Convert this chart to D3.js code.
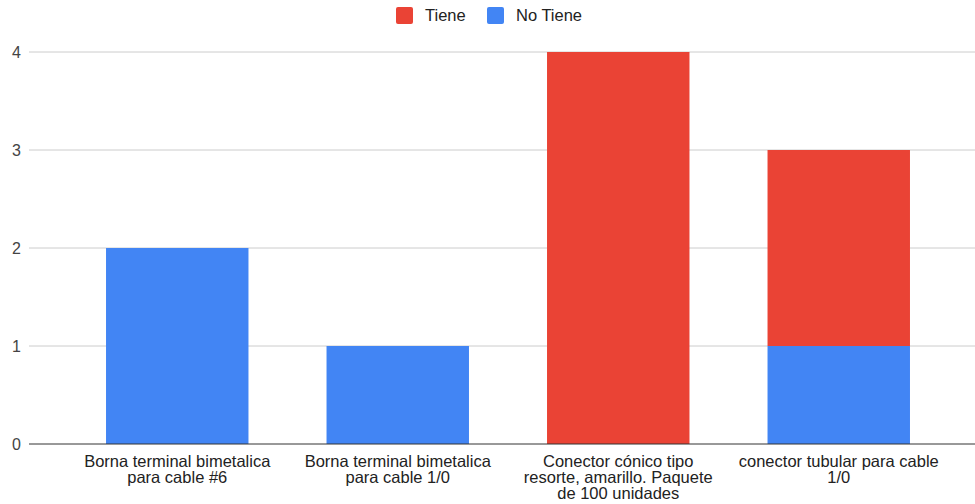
<!DOCTYPE html>
<html>
<head>
<meta charset="utf-8">
<script src="https://cdn.jsdelivr.net/npm/d3@7"></script>
<style>
  html, body { margin: 0; padding: 0; background: #fff; }
  svg { display: block; font-family: "Liberation Sans", Arial, sans-serif; }
</style>
</head>
<body>
<svg id="chart" width="975" height="504"></svg>
<script>
// Inventory of connectors: how many units are available ("Tiene") vs missing ("No Tiene")
const categories = [
  "Borna terminal bimetalica para cable #6",
  "Borna terminal bimetalica para cable 1/0",
  "Conector cónico tipo resorte, amarillo. Paquete de 100 unidades",
  "conector tubular para cable 1/0"
];
// Category tick labels, broken into lines
const categoryLabelLines = [
  ["Borna terminal bimetalica", "para cable #6"],
  ["Borna terminal bimetalica", "para cable 1/0"],
  ["Conector cónico tipo", "resorte, amarillo. Paquete", "de 100 unidades"],
  ["conector tubular para cable", "1/0"]
];
const noTiene = [2, 1, 0, 1];
const tiene = [0, 0, 4, 2];
const seriesNames = ["Tiene", "No Tiene"];
const seriesColors = ["#ea4335", "#4285f4"];
const yTicks = [0, 1, 2, 3, 4];

const svg = d3.select("#chart");
const plotLeft = 29, plotRight = 975;
const fontSize = 16.5;

const x = d3.scaleBand()
  .domain(categories)
  .range([67, 949])
  .paddingInner(0.354)
  .paddingOuter(0.177);

const y = d3.scaleLinear().domain([0, 4]).range([444, 52]);

// Horizontal gridlines
svg.append("g")
  .selectAll("line")
  .data(yTicks.filter(d => d !== 0))
  .join("line")
  .attr("x1", plotLeft).attr("x2", plotRight)
  .attr("y1", d => y(d)).attr("y2", d => y(d))
  .attr("stroke", "#cccccc").attr("stroke-width", 1);

// Y tick labels
svg.append("g")
  .selectAll("text")
  .data(yTicks)
  .join("text")
  .attr("x", 21)
  .attr("y", d => y(d))
  .attr("dy", "0.35em")
  .attr("text-anchor", "end")
  .attr("font-size", 16)
  .attr("fill", "#444")
  .text(d => d);

// Stacked bars: "No Tiene" at the bottom, "Tiene" on top
const rows = categories.map((c, i) => ({ cat: c, "No Tiene": noTiene[i], "Tiene": tiene[i] }));
const stacked = d3.stack().keys(["No Tiene", "Tiene"])(rows);
const colorOf = { "Tiene": seriesColors[0], "No Tiene": seriesColors[1] };

svg.append("g")
  .selectAll("g")
  .data(stacked)
  .join("g")
  .attr("fill", s => colorOf[s.key])
  .selectAll("rect")
  .data(s => s.filter(d => d[1] - d[0] > 0))
  .join("rect")
  .attr("x", d => x(d.data.cat))
  .attr("width", x.bandwidth())
  .attr("y", d => y(d[1]))
  .attr("height", d => y(d[0]) - y(d[1]));

// Baseline
svg.append("line")
  .attr("x1", plotLeft).attr("x2", plotRight)
  .attr("y1", y(0)).attr("y2", y(0))
  .attr("stroke", "#333").attr("stroke-width", 1);

// Category labels under each bar
const labels = svg.append("g");
categories.forEach((c, k) => {
  const cx = x(c) + x.bandwidth() / 2;
  const t = labels.append("text")
    .attr("x", cx)
    .attr("y", 467)
    .attr("text-anchor", "middle")
    .attr("font-size", fontSize)
    .attr("fill", "#222");
  categoryLabelLines[k].forEach((ln, i) => {
    t.append("tspan").attr("x", cx).attr("dy", i === 0 ? 0 : 16).text(ln);
  });
});

// Legend
const legendItems = [
  { name: seriesNames[0], color: seriesColors[0], x: 396 },
  { name: seriesNames[1], color: seriesColors[1], x: 487 }
];
const lg = svg.append("g");
legendItems.forEach(it => {
  lg.append("rect")
    .attr("x", it.x).attr("y", 7).attr("width", 17).attr("height", 17)
    .attr("rx", 2).attr("fill", it.color);
  lg.append("text")
    .attr("x", it.x + 29).attr("y", 15.5).attr("dy", "0.35em")
    .attr("font-size", fontSize).attr("fill", "#222")
    .text(it.name);
});
</script>
</body>
</html>
